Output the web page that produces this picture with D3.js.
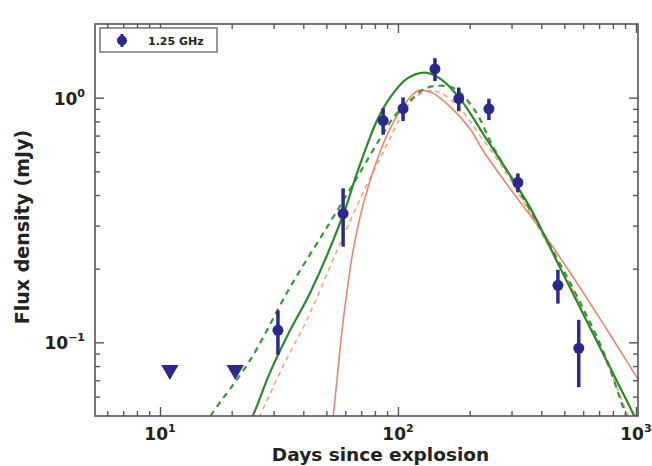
<!DOCTYPE html>
<html>
<head>
<meta charset="utf-8">
<script src="https://cdn.jsdelivr.net/npm/d3@7"></script>
<style>
  body { margin: 0; background: #fff; }
  svg { display: block; font-family: "DejaVu Sans", sans-serif; }
</style>
</head>
<body>
<div id="chart"></div>
<script>
// 1.25 GHz detections (days, mJy, 1-sigma error)
const days = [31.3, 58.8, 86.6, 105, 143, 180, 241, 319, 470, 575];
const flux = [0.112, 0.336, 0.806, 0.902, 1.31, 0.99, 0.90, 0.45, 0.171, 0.0946];
const fluxErr = [0.023, 0.09, 0.10, 0.10, 0.14, 0.11, 0.09, 0.04, 0.027, 0.029];

// upper limits
const limitDays = [11.0, 20.7];
const limitFlux = [0.077, 0.077];

// model curves as [days, mJy]
const greenSolid = [[22.8, 0.0437], [24.6, 0.0504], [29.0, 0.0754], [35.2, 0.112], [42.7, 0.159],
  [58.7, 0.330], [67.2, 0.490], [81.6, 0.806], [92.6, 1.0], [109.1, 1.196], [129.9, 1.265],
  [150.2, 1.196], [182.2, 0.991], [227.6, 0.713], [287.1, 0.504], [358.6, 0.356], [479.5, 0.202],
  [640.9, 0.115], [816, 0.072], [971, 0.0513], [1040, 0.044]];
const greenDashed = [[15.46, 0.0458], [16.70, 0.0518], [23.88, 0.0844], [35.2, 0.168], [51.8, 0.309],
  [69.2, 0.494], [84.0, 0.680], [97.1, 0.845], [112.3, 0.972], [129.9, 1.088], [150.2, 1.119],
  [173.6, 1.088], [210.6, 0.885], [253.2, 0.619], [325.6, 0.409], [435.2, 0.249], [581.8, 0.146],
  [740.8, 0.0885], [907.8, 0.0504], [990, 0.0417]];
const orangeDashed = [[25.07, 0.0458], [26.32, 0.0504], [33.5, 0.0829], [41.5, 0.124], [55.4, 0.237],
  [72.7, 0.425], [88.2, 0.619], [101.9, 0.821], [114.5, 0.972], [129.9, 1.058], [150.2, 1.048],
  [182.2, 0.902], [221.1, 0.700], [268.3, 0.538], [325.6, 0.398], [435.2, 0.242], [581.8, 0.144],
  [740.8, 0.0860], [925.5, 0.0504], [1000, 0.0417]];
const orangeSolid = [[52.9, 0.0458], [53.5, 0.0504], [55.4, 0.0700], [58.2, 0.112], [61.1, 0.163],
  [64.9, 0.240], [70.6, 0.350], [80.1, 0.528], [92.6, 0.747], [107.0, 0.945], [121.3, 1.068],
  [139.0, 1.048], [165.4, 0.919], [200.7, 0.747], [227.6, 0.608], [295.6, 0.425], [395.0, 0.292],
  [528.0, 0.193], [705.9, 0.125], [856.5, 0.0927], [1039, 0.0687]];

// ticks
const xMajor = [10, 100, 1000];
const xExp = ["1", "2", "3"];
const yMajor = [0.1, 1];
const yExp = ["\u22121", "0"];
const legendLabel = "1.25 GHz";

const margin = {top: 24, right: 14, bottom: 50, left: 95};
const width = 652 - margin.left - margin.right;
const height = 466 - margin.top - margin.bottom;

const navy = "#2b2a8c";
const axisColor = "#555";

const svg = d3.select("#chart")
    .append("svg")
    .attr("width", 652)
    .attr("height", 466);

const g = svg.append("g")
    .attr("transform", `translate(${margin.left},${margin.top})`);

const x = d3.scaleLog().domain([5.33, 1020]).range([0, width]);
const y = d3.scaleLog().domain([0.05, 2.0]).range([height, 0]);

// minor ticks for every decade inside the domain
function minorTicks(scale) {
    const [lo, hi] = scale.domain();
    const out = [];
    for (let p = Math.floor(Math.log10(lo)); p <= Math.ceil(Math.log10(hi)); p++) {
        for (let k = 2; k <= 9; k++) {
            const v = k * Math.pow(10, p);
            if (v > lo && v < hi) out.push(v);
        }
    }
    return out;
}
const xMinor = minorTicks(x);
const yMinor = minorTicks(y);

// axes: ticks point inwards on all four sides
function drawTicks(axisGen, values, size, transform) {
    const a = g.append("g")
        .attr("transform", transform || null)
        .call(axisGen.tickValues(values).tickSize(-size).tickFormat(""));
    a.select(".domain").remove();
    a.selectAll("line").attr("stroke", axisColor).attr("stroke-width", 1.4);
}
drawTicks(d3.axisBottom(x), xMajor, 9, `translate(0,${height})`);
drawTicks(d3.axisBottom(x), xMinor, 5, `translate(0,${height})`);
drawTicks(d3.axisTop(x), xMajor, 9);
drawTicks(d3.axisTop(x), xMinor, 5);
drawTicks(d3.axisLeft(y), yMajor, 9);
drawTicks(d3.axisLeft(y), yMinor, 5);
drawTicks(d3.axisRight(y), yMajor, 9, `translate(${width},0)`);
drawTicks(d3.axisRight(y), yMinor, 5, `translate(${width},0)`);

// tick labels with superscript exponent
xMajor.forEach((v, i) => {
    const t = g.append("text")
        .attr("x", x(v))
        .attr("y", height + 24)
        .attr("text-anchor", "middle")
        .style("font-size", "17px")
        .style("font-weight", "bold")
        .attr("fill", "#222");
    t.append("tspan").text("10");
    t.append("tspan").attr("dy", -8).style("font-size", "11px").text(xExp[i]);
});
yMajor.forEach((v, i) => {
    const t = g.append("text")
        .attr("x", -10)
        .attr("y", y(v) + 7)
        .attr("text-anchor", "end")
        .style("font-size", "17px")
        .style("font-weight", "bold")
        .attr("fill", "#222");
    t.append("tspan").text("10");
    t.append("tspan").attr("dy", -8).style("font-size", "11px").text(yExp[i]);
});

// axis titles
g.append("text")
    .attr("x", width / 2 + 14)
    .attr("y", height + 45)
    .attr("text-anchor", "middle")
    .style("font-size", "18.5px")
    .style("font-weight", "bold")
    .attr("fill", "#222")
    .text("Days since explosion");

g.append("text")
    .attr("transform", "rotate(-90)")
    .attr("x", -(height / 2) - 7)
    .attr("y", -66)
    .attr("text-anchor", "middle")
    .style("font-size", "19px")
    .style("font-weight", "bold")
    .attr("fill", "#222")
    .text("Flux density (mJy)");

// model curves, clipped to the plot area
g.append("clipPath").attr("id", "plot-clip")
    .append("rect").attr("width", width).attr("height", height);

const line = d3.line()
    .x(d => x(d[0]))
    .y(d => y(d[1]))
    .curve(d3.curveCatmullRom.alpha(0.5));

const curves = g.append("g").attr("clip-path", "url(#plot-clip)");
curves.append("path").datum(orangeDashed)
    .attr("d", line).attr("fill", "none")
    .attr("stroke", "#f3a77c").attr("stroke-width", 1.6).attr("stroke-dasharray", "5,4");
curves.append("path").datum(orangeSolid)
    .attr("d", line).attr("fill", "none")
    .attr("stroke", "#f2846a").attr("stroke-width", 1.6);
curves.append("path").datum(greenDashed)
    .attr("d", line).attr("fill", "none")
    .attr("stroke", "#3a963a").attr("stroke-width", 2.2).attr("stroke-dasharray", "6,5");
curves.append("path").datum(greenSolid)
    .attr("d", line).attr("fill", "none")
    .attr("stroke", "#2a8a2a").attr("stroke-width", 2.2);

// error bars and points
const pts = days.map((d, i) => ({day: d, flux: flux[i], err: fluxErr[i]}));

g.selectAll(".err")
    .data(pts)
    .enter()
    .append("line")
    .attr("class", "err")
    .attr("x1", d => x(d.day))
    .attr("x2", d => x(d.day))
    .attr("y1", d => y(d.flux + d.err))
    .attr("y2", d => y(d.flux - d.err))
    .attr("stroke", navy)
    .attr("stroke-width", 3.5);

g.selectAll(".pt")
    .data(pts)
    .enter()
    .append("circle")
    .attr("class", "pt")
    .attr("cx", d => x(d.day))
    .attr("cy", d => y(d.flux))
    .attr("r", 5.5)
    .attr("fill", navy);

// upper limits as downward triangles
g.selectAll(".limit")
    .data(limitDays.map((d, i) => [d, limitFlux[i]]))
    .enter()
    .append("path")
    .attr("class", "limit")
    .attr("d", d3.symbol().type(d3.symbolTriangle).size(130))
    .attr("transform", d => `translate(${x(d[0])},${y(d[1])}) rotate(180)`)
    .attr("fill", navy);

// frame
g.append("rect")
    .attr("width", width)
    .attr("height", height)
    .attr("fill", "none")
    .attr("stroke", axisColor)
    .attr("stroke-width", 1.6);

// legend
const legend = g.append("g").attr("transform", "translate(5,4)");
legend.append("rect")
    .attr("width", 117)
    .attr("height", 24)
    .attr("fill", "#fff")
    .attr("stroke", axisColor)
    .attr("stroke-width", 1.2);
legend.append("line")
    .attr("x1", 22).attr("x2", 22).attr("y1", 6).attr("y2", 19)
    .attr("stroke", navy).attr("stroke-width", 3);
legend.append("circle")
    .attr("cx", 22).attr("cy", 12.5).attr("r", 5)
    .attr("fill", navy);
legend.append("text")
    .attr("x", 48)
    .attr("y", 17)
    .style("font-size", "11px")
    .style("font-weight", "bold")
    .attr("fill", "#222")
    .text(legendLabel);
</script>
</body>
</html>
